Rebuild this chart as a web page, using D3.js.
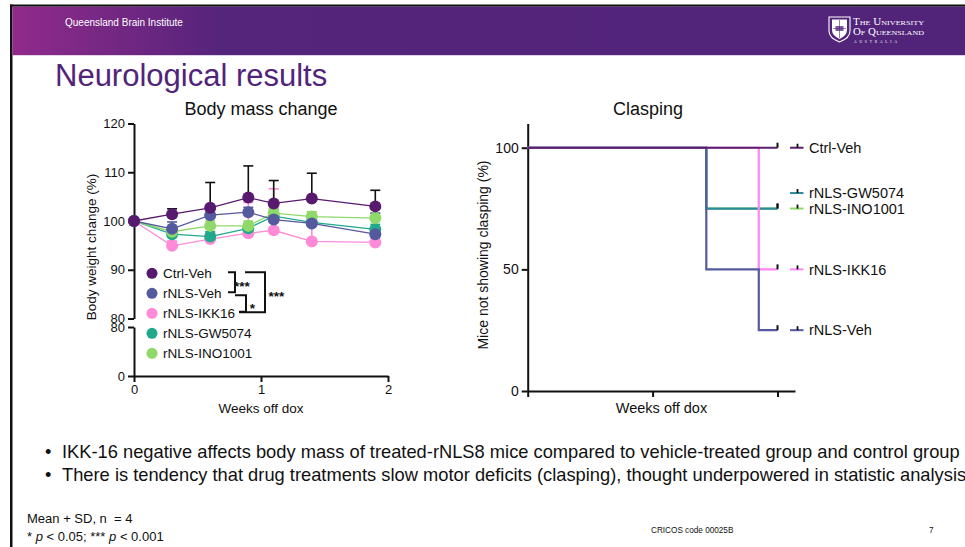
<!DOCTYPE html>
<html>
<head>
<meta charset="utf-8">
<script src="https://cdn.jsdelivr.net/npm/d3@7"></script>
<style>
  body { margin: 0; background: #fff; overflow: hidden; }
  svg { display: block; font-family: "Liberation Sans", Arial, sans-serif; }
</style>
</head>
<body>
<div id="slide"></div>
<script>
// ---- body mass change (mean + SD, % of start) ----
var weeks = [0, 0.3, 0.6, 0.9, 1.1, 1.4, 1.9];
var groups = ["Ctrl-Veh", "rNLS-Veh", "rNLS-IKK16", "rNLS-GW5074", "rNLS-INO1001"];
var ctrlVehMean = [100, 101.4, 102.7, 104.8, 103.6, 104.6, 103.0];
var ctrlVehSD   = [0, 1.1, 5.2, 6.5, 4.7, 5.2, 3.3];
var rnlsVehMean = [100, 98.4, 101.2, 101.8, 100.3, 99.5, 97.3];
var rnlsVehSD   = [0, 1.4, 1.0, 1.0, 1.2, 1.0, 4.3];
var ikk16Mean   = [100, 94.9, 96.3, 97.5, 98.1, 95.8, 95.6];
var ikk16SD     = [0, 1.0, 1.2, 6.3, 8.5, 3.3, 3.1];
var gw5074Mean  = [100, 97.3, 96.8, 98.5, 101.0, 99.7, 98.3];
var gw5074SD    = [0, 0.8, 1.0, 1.0, 1.5, 1.0, 1.0];
var ino1001Mean = [100, 97.8, 99.0, 99.0, 101.6, 100.9, 100.6];
var ino1001SD   = [0, 0.8, 1.0, 1.0, 1.0, 1.0, 1.0];

var bodyTicksTop = [80, 90, 100, 110, 120];
var bodyTicksBottom = [0, 80];
var weekTicks = [0, 1, 2];

// ---- clasping (Kaplan-Meier style, % not clasping) ----
var ctrlVehTimes = [0, 2],            ctrlVehSurv = [100, 100];
var rnlsVehTimes = [0, 1.43, 1.85, 2], rnlsVehSurv = [100, 50, 25, 25];
var ikk16Times   = [0, 1.85, 2],       ikk16Surv   = [100, 50, 50];
var gw5074Times  = [0, 1.43, 2],       gw5074Surv  = [100, 75, 75];
var ino1001Times = [0, 1.43, 2],       ino1001Surv = [100, 75, 75];
var claspTicks = [0, 50, 100];
var claspLegendOrder = ["Ctrl-Veh", "rNLS-GW5074", "rNLS-INO1001", "rNLS-IKK16", "rNLS-Veh"];

var bullets = [
  "IKK-16 negative affects body mass of treated-rNLS8 mice compared to vehicle-treated group and control group",
  "There is tendency that drug treatments slow motor deficits (clasping), thought underpowered in statistic analysis"
];

var bodyColors  = ["#581a6e", "#55599e", "#ff8ad8", "#20a98c", "#8fd96b"];
var claspColors = ["#5b1f70", "#55599e", "#ff86f0", "#2d8a9c", "#8fd96b"];
var uqPurple = "#51247a";

var svg = d3.select("#slide").append("svg")
    .attr("width", 965)
    .attr("height", 547);

// ---------- slide frame / header ----------
var defs = svg.append("defs");
var grad = defs.append("linearGradient").attr("id", "hdr")
    .attr("gradientUnits", "userSpaceOnUse")
    .attr("x1", 12).attr("x2", 965).attr("y1", 0).attr("y2", 0);
grad.append("stop").attr("offset", 0).attr("stop-color", "#912a8b");
grad.append("stop").attr("offset", 0.22).attr("stop-color", "#55247b");
grad.append("stop").attr("offset", 1).attr("stop-color", uqPurple);

svg.append("rect").attr("x", 10).attr("y", 4.5).attr("width", 955).attr("height", 2.2).attr("fill", "#111");
svg.append("rect").attr("x", 10).attr("y", 4.5).attr("width", 2.5).attr("height", 543).attr("fill", "#111");
svg.append("rect").attr("x", 12.5).attr("y", 6.7).attr("width", 953).attr("height", 48.5).attr("fill", "url(#hdr)");

svg.append("text").attr("x", 65).attr("y", 25.5)
    .attr("fill", "#fff").style("font-size", "10px")
    .text("Queensland Brain Institute");

// UQ crest + wordmark
var logo = svg.append("g");
logo.append("path")
    .attr("d", "M829,17 H850 V31 Q850,38 839.5,42 Q829,38 829,31 Z")
    .attr("fill", "none").attr("stroke", "#fff").attr("stroke-width", 1.1);
logo.append("path")
    .attr("d", "M832,19.5 H847 V30 Q847,35.5 839.5,39 Q832,35.5 832,30 Z")
    .attr("fill", "#fff");
logo.append("rect").attr("x", 835.5).attr("y", 26).attr("width", 8).attr("height", 5).attr("fill", "#7a5a9a");
logo.append("path").attr("d", "M839.5,20 V38 M833,28.5 H846").attr("stroke", uqPurple).attr("stroke-width", 0.6);
logo.append("text").attr("x", 853).attr("y", 24.5)
    .attr("fill", "#fff").style("font-family", "'Liberation Serif', serif").style("font-size", "9.5px")
    .style("font-variant", "small-caps")
    .attr("textLength", 71).attr("lengthAdjust", "spacingAndGlyphs")
    .text("The University");
logo.append("text").attr("x", 853).attr("y", 34.5)
    .attr("fill", "#fff").style("font-family", "'Liberation Serif', serif").style("font-size", "9.5px")
    .style("font-variant", "small-caps")
    .attr("textLength", 71).attr("lengthAdjust", "spacingAndGlyphs")
    .text("Of Queensland");
logo.append("text").attr("x", 854).attr("y", 42.5)
    .attr("fill", "#fff").style("font-family", "'Liberation Serif', serif").style("font-size", "3.6px")
    .attr("textLength", 43).attr("lengthAdjust", "spacing")
    .text("AUSTRALIA");

svg.append("text").attr("x", 55).attr("y", 86)
    .attr("fill", uqPurple).style("font-size", "31px")
    .text("Neurological results");

// ---------- helpers ----------
function styleAxis(g, fs) {
    g.select(".domain").attr("stroke", "#111").attr("stroke-width", 2);
    g.selectAll(".tick line").attr("stroke", "#111").attr("stroke-width", 2);
    g.selectAll(".tick text").attr("fill", "#111").style("font-size", fs)
        .style("font-family", "'Liberation Sans', Arial, sans-serif");
}

// ---------- body mass chart ----------
var x = d3.scaleLinear().domain([0, 2]).range([134, 388]);
var yTop = d3.scaleLinear().domain([80, 120]).range([318.5, 123.5]);
var yBot = d3.scaleLinear().domain([0, 80]).range([376, 327]);
function yBody(v) { return v >= 80 ? yTop(v) : yBot(v); }

var gBody = svg.append("g");

gBody.append("text").attr("x", 261).attr("y", 114.5)
    .attr("text-anchor", "middle").style("font-size", "18px").attr("fill", "#111")
    .text("Body mass change");

var axTop = gBody.append("g").attr("transform", "translate(134,0)")
    .call(d3.axisLeft(yTop).tickValues(bodyTicksTop).tickSizeOuter(0));
styleAxis(axTop, "13px");
var axBot = gBody.append("g").attr("transform", "translate(134,0)")
    .call(d3.axisLeft(yBot).tickValues(bodyTicksBottom).tickSizeOuter(0));
styleAxis(axBot, "13px");
var axX = gBody.append("g").attr("transform", "translate(0,376)")
    .call(d3.axisBottom(x).tickValues(weekTicks).tickFormat(d3.format("d")).tickSizeOuter(0));
styleAxis(axX, "13px");

gBody.append("text").attr("x", 261).attr("y", 413)
    .attr("text-anchor", "middle").style("font-size", "13.5px").attr("fill", "#111")
    .text("Weeks off dox");
gBody.append("text").attr("transform", "translate(96,247) rotate(-90)")
    .attr("text-anchor", "middle").style("font-size", "13.5px").attr("fill", "#111")
    .text("Body weight change (%)");

var means = [ctrlVehMean, rnlsVehMean, ikk16Mean, gw5074Mean, ino1001Mean];
var sds = [ctrlVehSD, rnlsVehSD, ikk16SD, gw5074SD, ino1001SD];
var bodySeries = groups.map(function (g, i) {
    return {
        name: g,
        color: bodyColors[i],
        barColor: i === 0 ? "#111" : bodyColors[i],
        values: weeks.map(function (w, j) { return {w: w, m: means[i][j], sd: sds[i][j]}; })
    };
});
var drawOrder = [2, 3, 4, 1, 0];

var line = d3.line()
    .x(function (d) { return x(d.w); })
    .y(function (d) { return yBody(d.m); });

// error bars first (upper SD only)
drawOrder.forEach(function (i) {
    var s = bodySeries[i];
    var eb = gBody.append("g").attr("stroke", s.barColor).attr("stroke-width", 1.6);
    s.values.filter(function (d) { return d.sd > 0; }).forEach(function (d) {
        eb.append("line")
            .attr("x1", x(d.w)).attr("x2", x(d.w))
            .attr("y1", yBody(d.m)).attr("y2", yBody(d.m + d.sd));
        eb.append("line")
            .attr("x1", x(d.w) - 5).attr("x2", x(d.w) + 5)
            .attr("y1", yBody(d.m + d.sd)).attr("y2", yBody(d.m + d.sd));
    });
});

drawOrder.forEach(function (i) {
    var s = bodySeries[i];
    gBody.append("path")
        .attr("d", line(s.values))
        .attr("fill", "none")
        .attr("stroke", s.color)
        .attr("stroke-width", 1.3);
    gBody.selectAll(null)
        .data(s.values)
        .enter().append("circle")
        .attr("cx", function (d) { return x(d.w); })
        .attr("cy", function (d) { return yBody(d.m); })
        .attr("r", 6)
        .attr("fill", s.color);
});

// legend
var legY0 = 273.3, legStep = 20;
var leg = gBody.append("g");
groups.forEach(function (g, i) {
    leg.append("circle").attr("cx", 152).attr("cy", legY0 + i * legStep).attr("r", 5.5).attr("fill", bodyColors[i]);
    leg.append("text").attr("x", 163).attr("y", legY0 + i * legStep).attr("dy", "0.36em")
        .style("font-size", "13.5px").attr("fill", "#111").text(g);
});

// significance brackets
var br = gBody.append("g").attr("fill", "none").attr("stroke", "#111").attr("stroke-width", 2);
var rowY = function (i) { return legY0 + i * legStep; };
br.append("path").attr("d", "M228," + (rowY(0) - 1) + " H235 V" + (rowY(1) - 1) + " H228");
br.append("path").attr("d", "M235," + (rowY(1) + 2) + " H246 V" + (rowY(2) - 1.5) + " H239");
br.append("path").attr("d", "M245," + (rowY(0) - 1) + " H265 V" + (rowY(2) - 1) + " H239");
var stars = [
    {t: "***", x: 242, y: 291},
    {t: "*", x: 252.5, y: 313},
    {t: "***", x: 276.5, y: 301}
];
gBody.selectAll(null).data(stars).enter().append("text")
    .attr("x", function (d) { return d.x; })
    .attr("y", function (d) { return d.y; })
    .attr("text-anchor", "middle")
    .style("font-size", "13.5px").style("font-weight", "bold").attr("fill", "#111")
    .text(function (d) { return d.t; });

// ---------- clasping chart ----------
var xR = d3.scaleLinear().domain([0, 2.14]).range([527.7, 795]);
var yR = d3.scaleLinear().domain([0, 110]).range([391, 123.4]);
var gCl = svg.append("g");

gCl.append("text").attr("x", 648).attr("y", 115)
    .attr("text-anchor", "middle").style("font-size", "18px").attr("fill", "#111")
    .text("Clasping");

var axRY = gCl.append("g").attr("transform", "translate(527.7,0)")
    .call(d3.axisLeft(yR).tickValues(claspTicks).tickSizeOuter(0));
styleAxis(axRY, "14px");
var axRX = gCl.append("g").attr("transform", "translate(0,391)")
    .call(d3.axisBottom(xR).tickValues(weekTicks).tickFormat("").tickSizeOuter(0));
styleAxis(axRX, "14px");

gCl.append("text").attr("x", 661.5).attr("y", 413)
    .attr("text-anchor", "middle").style("font-size", "14.5px").attr("fill", "#111")
    .text("Weeks off dox");
gCl.append("text").attr("transform", "translate(488,255) rotate(-90)")
    .attr("text-anchor", "middle").style("font-size", "14px").attr("fill", "#111")
    .text("Mice not showing clasping (%)");

var kmTimes = [ctrlVehTimes, rnlsVehTimes, ikk16Times, gw5074Times, ino1001Times];
var kmSurv = [ctrlVehSurv, rnlsVehSurv, ikk16Surv, gw5074Surv, ino1001Surv];
var kmSeries = groups.map(function (g, i) {
    return {
        name: g,
        color: claspColors[i],
        values: kmTimes[i].map(function (t, j) { return {t: t, s: kmSurv[i][j]}; })
    };
});
var kmLine = d3.line().curve(d3.curveStepAfter)
    .x(function (d) { return xR(d.t); })
    .y(function (d) { return yR(d.s); });

[4, 3, 2, 1, 0].forEach(function (i) {
    var s = kmSeries[i];
    gCl.append("path").attr("d", kmLine(s.values))
        .attr("fill", "none").attr("stroke", s.color).attr("stroke-width", 2.2);
    var last = s.values[s.values.length - 1];
    gCl.append("line")
        .attr("x1", xR(last.t)).attr("x2", xR(last.t))
        .attr("y1", yR(last.s) - 5).attr("y2", yR(last.s))
        .attr("stroke", "#111").attr("stroke-width", 2);
});

// legend placed at each group's final value
var legOffsets = {"rNLS-GW5074": -15.5};
claspLegendOrder.forEach(function (name) {
    var i = groups.indexOf(name);
    var s = kmSeries[i];
    var ly = yR(s.values[s.values.length - 1].s) + (legOffsets[name] || 0);
    gCl.append("line").attr("x1", 790).attr("x2", 803.5).attr("y1", ly).attr("y2", ly)
        .attr("stroke", s.color).attr("stroke-width", 2);
    gCl.append("line").attr("x1", 797.5).attr("x2", 797.5).attr("y1", ly - 4).attr("y2", ly)
        .attr("stroke", "#111").attr("stroke-width", 1.8);
    gCl.append("text").attr("x", 809).attr("y", ly).attr("dy", "0.36em")
        .style("font-size", "14.5px").attr("fill", "#111").text(name);
});

// ---------- bullet text ----------
var bt = svg.append("g");
var bulletFont = 16;
bullets.forEach(function (b, i) {
    var y = 457.5 + i * 23;
    bt.append("text").attr("x", 45).attr("y", y).style("font-size", bulletFont + "px").attr("fill", "#111").text("\u2022");
    bt.append("text").attr("class", "btxt").attr("x", 62).attr("y", y)
        .style("font-size", bulletFont + "px").attr("fill", "#111").text(b);
});
// fit font size so the first line spans the same width as the slide
var firstLen = bt.select(".btxt").node().getComputedTextLength();
var fitted = bulletFont * 898 / firstLen;
bt.selectAll("text").style("font-size", fitted + "px");

// ---------- footer ----------
var ft = svg.append("g").attr("fill", "#111");
ft.append("text").attr("x", 27).attr("y", 523).style("font-size", "13px").text("Mean + SD, n\u00a0 = 4");
var f2 = ft.append("text").attr("x", 27).attr("y", 541).style("font-size", "13px");
f2.append("tspan").text("* ");
f2.append("tspan").style("font-style", "italic").text("p");
f2.append("tspan").text(" < 0.05; *** ");
f2.append("tspan").style("font-style", "italic").text("p");
f2.append("tspan").text(" < 0.001");
ft.append("text").attr("x", 651).attr("y", 533).style("font-size", "8.2px").text("CRICOS code 00025B");
ft.append("text").attr("x", 929).attr("y", 533).style("font-size", "8.2px").text("7");
</script>
</body>
</html>
